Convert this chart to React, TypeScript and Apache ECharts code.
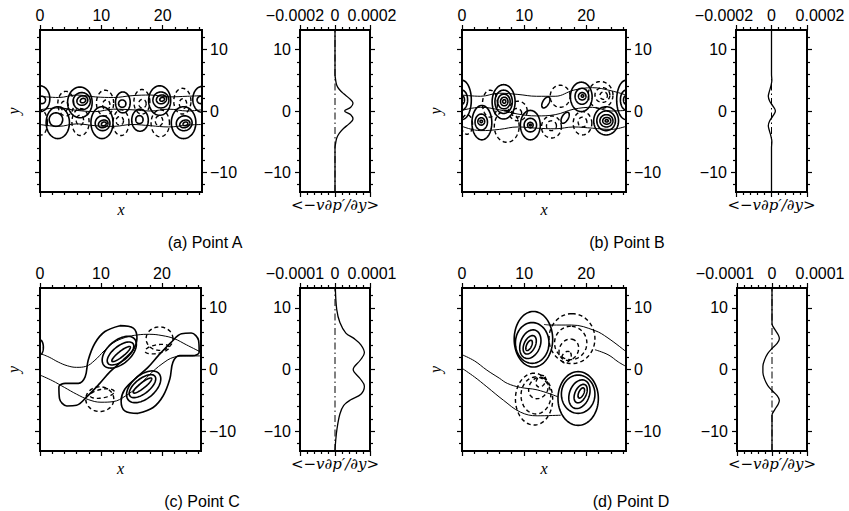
import React, { useEffect, useRef } from 'react';
import * as echarts from 'echarts';

// ---------------- ticks / ranges ----------------
const X_RANGE = [0, 26.4];
const Y_RANGE = [-13.2, 13.2];
const X_MAJOR_TICKS = [0, 10, 20];
const X_MINOR_TICKS = [2, 4, 6, 8, 12, 14, 16, 18, 22, 24, 26];
const Y_MAJOR_TICKS = [-10, 0, 10];
const Y_MINOR_TICKS = [-12, -8, -6, -4, -2, 2, 4, 6, 8, 12];
const FLUX_AB_RANGE = [-0.0002, 0.0002];
const FLUX_AB_MAJOR = [-0.0002, 0, 0.0002];
const FLUX_AB_MINOR = [-0.00016, -0.00012, -0.00008, -0.00004, 0.00004, 0.00008, 0.00012, 0.00016];
const FLUX_CD_RANGE = [-0.0001, 0.0001];
const FLUX_CD_MAJOR = [-0.0001, 0, 0.0001];
const FLUX_CD_MINOR = [-0.00008, -0.00006, -0.00004, -0.00002, 0.00002, 0.00004, 0.00006, 0.00008];

const CAPTIONS = ['(a) Point A', '(b) Point B', '(c) Point C', '(d) Point D'];
const X_NAME = 'x';
const Y_NAME = 'y';
const FLUX_NAME = '<\u2212v\u2202p\u2032/\u2202y>';

// ---------------- contour loops: [cx, cy, rx, ry, angleDeg, sign] ----------------
const A_CONTOURS = [
  [6.5, 1.4, 2.0, 2.5, 0, 1], [6.8, 1.6, 1.4, 1.4, 20, 1], [6.9, 1.7, 0.9, 0.75, 20, 1], [7.0, 1.7, 0.45, 0.35, 20, 1],
  [19.5, 1.7, 1.8, 2.4, 0, 1], [19.7, 1.8, 1.3, 1.3, 20, 1], [19.8, 1.9, 0.85, 0.7, 20, 1], [19.9, 1.9, 0.4, 0.3, 20, 1],
  [13.5, 1.4, 1.2, 1.7, 0, 1], [13.4, 1.2, 0.6, 0.6, 0, 1],
  [0, 2.0, 1.6, 2.1, 0, 1], [0.3, 1.8, 0.6, 0.6, 0, 1],
  [26.4, 1.9, 1.5, 2.1, 0, 1], [26.2, 1.8, 0.6, 0.6, 0, 1],
  [2.9, -1.9, 1.9, 2.6, 0, 1], [2.6, -1.4, 1.1, 1.1, 0, 1],
  [10.1, -1.9, 1.8, 2.6, 0, 1], [10.2, -2.0, 1.2, 1.2, 20, 1], [10.3, -2.1, 0.8, 0.6, 20, 1], [10.4, -2.1, 0.4, 0.3, 20, 1],
  [16.3, -1.5, 1.35, 1.8, 0, 1], [16.2, -1.4, 0.6, 0.65, 0, 1],
  [23.4, -1.9, 2.0, 2.6, 0, 1], [23.5, -2.0, 1.3, 1.2, 20, 1], [23.6, -2.1, 0.85, 0.6, 20, 1], [23.7, -2.1, 0.4, 0.3, 20, 1],
  [4.2, 1.2, 1.3, 2.0, 0, -1], [4.0, 0.8, 0.6, 0.8, 0, -1],
  [10.6, 1.3, 1.4, 2.1, 0, -1], [10.8, 1.0, 0.6, 0.8, 0, -1],
  [16.6, 1.5, 1.3, 2.0, 0, -1], [16.7, 1.2, 0.6, 0.7, 0, -1],
  [23.2, 1.6, 1.4, 2.1, 0, -1], [23.3, 1.2, 0.6, 0.8, 0, -1],
  [6.6, -1.8, 1.4, 2.2, 0, -1], [6.5, -1.5, 0.6, 0.8, 0, -1],
  [13.2, -1.9, 1.3, 2.1, 0, -1], [13.0, -1.6, 0.6, 0.7, 0, -1],
  [19.6, -2.0, 1.5, 2.2, 0, -1], [19.4, -1.6, 0.6, 0.8, 0, -1],
  [0.2, -1.9, 1.0, 2.0, 0, -1],
];
const B_CONTOURS = [
  [6.7, 1.5, 1.85, 2.8, 0, 1], [6.7, 1.5, 1.4, 1.9, 0, 1], [6.75, 1.55, 1.0, 1.2, 0, 1], [6.8, 1.55, 0.6, 0.7, 0, 1], [6.8, 1.55, 0.25, 0.3, 0, 1],
  [19.2, 2.3, 1.75, 2.4, 0, 1], [19.3, 2.4, 1.1, 1.3, 0, 1], [19.35, 2.4, 0.6, 0.6, 0, 1], [19.4, 2.45, 0.2, 0.2, 0, 1],
  [3.2, -1.9, 1.6, 2.8, 0, 1], [3.1, -1.8, 1.0, 1.3, 0, 1], [3.1, -1.7, 0.55, 0.6, 0, 1], [3.1, -1.7, 0.2, 0.2, 0, 1],
  [11.0, -2.3, 1.6, 2.4, 0, 1], [11.0, -2.3, 1.0, 1.1, 0, 1], [11.0, -2.3, 0.45, 0.45, 0, 1], [11.0, -2.3, 0.15, 0.15, 0, 1],
  [23.2, -1.6, 2.0, 2.3, 0, 1], [23.2, -1.6, 1.5, 1.6, 0, 1], [23.25, -1.6, 1.05, 1.0, 0, 1], [23.3, -1.6, 0.65, 0.55, 0, 1], [23.3, -1.6, 0.25, 0.2, 0, 1],
  [0, 1.8, 1.5, 3.2, 0, 1], [0, 1.8, 0.9, 1.6, 0, 1], [0, 1.8, 0.4, 0.7, 0, 1],
  [26.4, 1.8, 1.5, 3.2, 0, 1], [26.4, 1.8, 0.9, 1.6, 0, 1], [26.4, 1.8, 0.4, 0.7, 0, 1],
  [13.5, 1.4, 1.0, 0.5, 60, 1], [16.6, -1.1, 1.0, 0.5, 60, 1],
  [4.5, 1.2, 1.2, 2.2, 0, -1],
  [9.0, 0.0, 1.5, 1.6, 0, -1], [8.8, -0.3, 0.8, 0.7, 0, -1],
  [7.2, -2.5, 2.0, 2.6, 0, -1],
  [14.4, -2.6, 1.6, 1.8, 0, -1], [14.4, -2.4, 0.8, 0.8, 0, -1],
  [15.8, 2.4, 1.6, 1.8, 0, -1],
  [22.3, 2.6, 2.0, 2.2, 0, -1], [22.6, 2.6, 1.2, 1.2, 0, -1], [22.8, 2.5, 0.6, 0.6, 0, -1],
  [19.4, -2.0, 1.5, 1.9, 0, -1], [19.4, -1.8, 0.7, 0.8, 0, -1],
  [0.8, -2.2, 0.9, 1.6, 0, -1],
];
const C_CONTOURS = [
  [13.3, 2.5, 1.9, 0.45, 38, 1], [13.2, 2.6, 2.6, 1.2, 38, 1], [13.0, 2.8, 3.3, 1.9, 40, 1],
  [16.8, -2.6, 1.9, 0.45, 38, 1], [16.8, -2.7, 2.6, 1.2, 38, 1], [17.0, -2.8, 3.3, 1.9, 40, 1],
  [0, 3.6, 0.55, 1.2, 0, 1],
  [19.6, 5.0, 2.2, 1.9, 0, -1], [19.2, 3.3, 2.0, 0.7, 10, -1],
  [9.8, -4.8, 2.3, 2.0, 0, -1], [10.2, -3.9, 2.0, 0.7, 10, -1],
];
const D_CONTOURS = [
  [11.5, 4.9, 4.5, 3.1, 90, 1], [11.3, 4.3, 3.3, 2.7, 90, 1], [11.0, 4.1, 2.4, 1.6, 70, 1], [10.9, 4.0, 1.6, 0.9, 65, 1], [10.8, 3.9, 0.9, 0.4, 65, 1],
  [18.7, -4.7, 4.35, 3.25, 90, 1], [18.7, -4.0, 3.1, 2.7, 90, 1], [18.9, -4.0, 2.4, 1.6, 70, 1], [19.1, -3.9, 1.6, 0.9, 65, 1], [19.2, -3.8, 0.9, 0.4, 65, 1],
  [17.7, 5.0, 4.05, 3.7, 90, -1], [17.5, 4.3, 2.7, 2.6, 90, -1], [17.2, 3.2, 1.8, 1.5, 60, -1], [16.8, 2.0, 1.0, 0.7, 60, -1],
  [11.6, -4.8, 4.2, 3.0, 90, -1], [11.9, -4.2, 3.0, 2.4, 90, -1], [12.3, -3.0, 1.8, 1.5, 60, -1], [12.7, -1.9, 1.0, 0.7, 60, -1],
];

// ---------------- free-form closed contours (panel C) ----------------
const C_UPPER_LOOP = [[13.1, 7.1], [15.3, 6.7], [15.9, 5.1], [15.3, 3.2], [13.6, 1.5], [11.5, -0.35], [9.8, -2.25], [7.7, -4.4], [6.0, -5.8], [4.4, -5.9], [3.2, -4.7], [3.1, -2.8], [4.15, -2.25], [6.3, -2.25], [7.4, -1.2], [7.9, 1.5], [9.0, 4.25], [10.65, 6.15], [13.1, 7.1]];
const C_LOWER_LOOP = [[16.1, -7.1], [13.9, -6.7], [13.3, -5.1], [13.9, -3.2], [15.6, -1.5], [17.7, 0.35], [19.4, 2.25], [21.5, 4.4], [23.2, 5.8], [24.8, 5.9], [26.0, 4.7], [26.1, 2.8], [25.05, 2.25], [22.9, 2.25], [21.8, 1.2], [21.3, -1.5], [20.2, -4.25], [18.55, -6.15], [16.1, -7.1]];

// ---------------- streamlines ----------------
const A_STREAM_1 = [[0, 2.4], [3, 2.2], [6, 2.6], [9, 2.3], [12, 2.2], [15, 2.5], [18, 2.6], [21, 2.3], [24, 2.4], [26.4, 2.5]];
const A_STREAM_2 = [[0, 0.2], [3, 0.5], [6, 0.1], [9, -0.1], [12, 0.3], [15, 0.2], [18, 0.0], [21, 0.3], [24, 0.0], [26.4, 0.2]];
const A_STREAM_3 = [[0, -2.2], [3, -2.5], [6, -2.1], [9, -2.4], [12, -2.5], [15, -2.2], [18, -2.4], [21, -2.6], [24, -2.3], [26.4, -2.2]];
const B_STREAM_1 = [[0, 2.6], [3, 2.4], [6, 2.9], [9, 2.7], [12, 2.4], [15, 2.4], [18, 3.4], [21, 3.8], [24, 3.3], [26.4, 2.6]];
const B_STREAM_2 = [[0, 0.1], [3, 0.6], [6, 0.2], [9, -0.5], [12, -0.8], [15, -0.6], [18, 0.3], [21, 0.6], [24, 0.0], [26.4, 0.1]];
const B_STREAM_3 = [[0, -2.5], [3, -3.2], [6, -3.0], [9, -2.6], [12, -2.8], [15, -2.9], [18, -2.6], [21, -2.8], [24, -3.0], [26.4, -2.5]];
const C_STREAM_1 = [[0, 2.6], [1.5, 2.0], [3, 1.2], [4.5, 0.6], [6, 0.35], [7.5, 0.5], [9, 1.5], [10.5, 3.0], [12, 4.3], [14, 5.2], [16, 5.6], [18, 5.7], [20, 5.5], [22, 5.0], [24, 4.0], [26.4, 2.8]];
const C_STREAM_2 = [[0, -0.9], [2, -1.8], [4, -2.9], [6, -4.0], [8, -4.9], [10, -5.3], [12, -5.2], [14, -4.3], [16, -2.8], [18, -0.8], [20, 0.9], [22, 2.0], [24, 2.2], [26.4, 2.2]];
const D_STREAM_1 = [[0, 2.4], [2, 1.4], [4, -0.1], [6, -1.4], [7.3, -2.25], [9.4, -2.9], [12.1, -3.3], [15.4, -4.4]];
const D_STREAM_2 = [[0, 0.2], [2, -1.2], [4, -2.8], [6.7, -5.0], [9.4, -6.9], [12.1, -7.5], [15.9, -7.4]];
const D_STREAM_3 = [[13.2, 7.3], [14.3, 7.2], [17.6, 7.2], [21.4, 6.3], [23.5, 5.1], [26.4, 2.9]];
const D_STREAM_4 = [[21.4, 3.2], [23.5, 2.4], [25.2, 1.2], [26.4, 0.5]];

// ---------------- profiles <-v dp'/dy> : [value, y] ----------------
const A_PROFILE = [[0, 13.2], [0, 8], [0, 6], [0.000004, 5], [0.00001, 4.2], [0.000025, 3.5], [0.00005, 2.8], [0.00008, 2.1], [0.000103, 1.3], [0.00009, 0.6], [0.000055, 0], [0.00009, -0.6], [0.000103, -1.3], [0.00008, -2.1], [0.00005, -2.8], [0.000025, -3.6], [0.00001, -4.4], [0.000004, -5.2], [0, -6], [0, -8], [0, -13.2]];
const B_PROFILE = [[0, 13.2], [0, 6], [0.000002, 5], [-0.000004, 4], [-0.000012, 3.2], [-0.000018, 2.4], [-0.00001, 1.6], [0.000008, 0.8], [0.000022, 0], [0.000008, -0.8], [-0.00001, -1.6], [-0.000018, -2.4], [-0.000012, -3.2], [-0.000004, -4], [0.000002, -5], [0, -6], [0, -13.2]];
const C_PROFILE = [[0.000001, 13.2], [0.000005, 9.7], [0.000014, 7.6], [0.000031, 5.9], [0.000055, 5.0], [0.000074, 4.0], [0.000084, 2.7], [0.000072, 1.5], [0.000052, 0], [0.000072, -1.5], [0.000084, -2.7], [0.000074, -4.0], [0.000045, -4.9], [0.000025, -5.8], [0.000014, -7.2], [0.000006, -9.5], [0.000002, -11.5], [0, -13.2]];
const D_PROFILE = [[0, 13.2], [0, 7.4], [0.000008, 6.5], [0.000018, 5.6], [0.000021, 5.0], [0.000014, 4.2], [0, 3.4], [-0.000012, 2.6], [-0.000021, 1.6], [-0.000026, 0.5], [-0.000026, -0.5], [-0.000021, -1.6], [-0.000012, -2.6], [0, -3.4], [0.000014, -4.2], [0.000021, -5.0], [0.000018, -5.6], [0.000008, -6.5], [0, -7.4], [0, -13.2]];
const ZERO_LINE = [[0, -13.2], [0, 13.2]];

const SANS = '"Liberation Sans", Arial, Helvetica, sans-serif';
const SERIF = '"Liberation Serif", "Times New Roman", serif';
const MATH = '"DejaVu Serif", "Liberation Serif", serif';

function fmt(v: number): string {
  if (Math.abs(v) < 1e-12) return '0';
  const s = String(Math.abs(v));
  return v < 0 ? '\u2212' + s : s;
}

function ellipseRender(params: any, api: any) {
  const cx = api.value(0), cy = api.value(1), rx = api.value(2), ry = api.value(3);
  const a = (api.value(4) * Math.PI) / 180;
  const sign = api.value(5);
  const pts: number[][] = [];
  const N = 72;
  for (let i = 0; i < N; i++) {
    const t = (i / N) * Math.PI * 2;
    const ex = rx * Math.cos(t), ey = ry * Math.sin(t);
    pts.push(api.coord([cx + ex * Math.cos(a) - ey * Math.sin(a), cy + ex * Math.sin(a) + ey * Math.cos(a)]));
  }
  return {
    type: 'polygon',
    shape: { points: pts },
    style: { fill: 'none', stroke: '#000', lineWidth: sign > 0 ? 1.6 : 1.4, lineDash: sign > 0 ? null : [4, 3] },
  };
}

function buildOption() {
  const grids: any[] = [];
  const xAxes: any[] = [];
  const yAxes: any[] = [];
  const series: any[] = [];

  const makeAxis = (s: any) => {
    const ax: any = {
      type: 'value',
      gridIndex: s.grid,
      position: s.pos,
      min: s.range[0],
      max: s.range[1],
      splitLine: { show: false },
      axisLine: { show: false, onZero: false },
      axisTick: { show: true, inside: false, length: s.len, customValues: s.ticks, lineStyle: { color: '#000', width: 1.2 } },
      axisLabel: { show: false },
    };
    if (s.labels) {
      const sp = s.spread || [0, 0];
      ax.axisLabel = {
        show: true,
        customValues: s.labels,
        margin: s.margin,
        color: '#000',
        fontSize: 16,
        fontFamily: SANS,
        formatter: s.spread
          ? (v: number) => (v < 0 ? '{l|' + fmt(v) + '}' : v > 0 ? '{r|' + fmt(v) + '}' : fmt(v))
          : (v: number) => fmt(v),
        rich: s.spread
          ? {
              l: { padding: [0, sp[0], 0, 0], fontSize: 16, fontFamily: SANS, color: '#000' },
              r: { padding: [0, 0, 0, sp[1]], fontSize: 16, fontFamily: SANS, color: '#000' },
            }
          : undefined,
      };
    }
    if (s.name) {
      ax.name = s.name;
      ax.nameLocation = 'middle';
      ax.nameGap = s.nameGap;
      ax.nameTextStyle = { fontFamily: s.nameFont || SERIF, fontStyle: 'italic', fontSize: s.nameSize || 16, color: '#000' };
    }
    return ax;
  };

  const addFrame = (g: any, xr: number[], xMaj: number[], xMin: number[], opts: any) => {
    const grid = grids.length;
    grids.push({ left: g[0], top: g[1], width: g[2], height: g[3], show: true, borderColor: '#000', borderWidth: 2, backgroundColor: 'rgba(0,0,0,0)' });
    const xi = xAxes.length;
    const yi = yAxes.length;
    xAxes.push(makeAxis({ grid, pos: 'top', range: xr, ticks: xMaj, len: 5, labels: xMaj, margin: 7, spread: opts.spread }));
    xAxes.push(makeAxis({ grid, pos: 'top', range: xr, ticks: xMin, len: 3 }));
    xAxes.push(makeAxis({ grid, pos: 'bottom', range: xr, ticks: xMaj, len: 5, name: opts.xName, nameGap: opts.xNameGap, nameSize: opts.xNameSize, nameFont: opts.xNameFont }));
    xAxes.push(makeAxis({ grid, pos: 'bottom', range: xr, ticks: xMin, len: 3 }));
    yAxes.push(makeAxis({ grid, pos: 'left', range: Y_RANGE, ticks: Y_MAJOR_TICKS, len: 5, labels: opts.yLabels === 'left' ? Y_MAJOR_TICKS : null, margin: 9, name: opts.yName, nameGap: 19 }));
    yAxes.push(makeAxis({ grid, pos: 'left', range: Y_RANGE, ticks: Y_MINOR_TICKS, len: 3 }));
    yAxes.push(makeAxis({ grid, pos: 'right', range: Y_RANGE, ticks: Y_MAJOR_TICKS, len: 5, labels: opts.yLabels === 'right' ? Y_MAJOR_TICKS : null, margin: 8 }));
    yAxes.push(makeAxis({ grid, pos: 'right', range: Y_RANGE, ticks: Y_MINOR_TICKS, len: 3 }));
    return { xi, yi };
  };

  const contourPanel = (g: any, contours: any[], streams: number[][][], loops: number[][][]) => {
    const { xi, yi } = addFrame(g, X_RANGE, X_MAJOR_TICKS, X_MINOR_TICKS, { xName: X_NAME, xNameGap: 9, yName: Y_NAME, yLabels: 'right' });
    series.push({
      type: 'custom',
      xAxisIndex: xi,
      yAxisIndex: yi,
      clip: true,
      silent: true,
      renderItem: ellipseRender,
      encode: { x: 0, y: 1 },
      data: contours,
    });
    loops.forEach((l) => {
      series.push({ type: 'line', xAxisIndex: xi, yAxisIndex: yi, data: l, smooth: 0.35, symbol: 'none', clip: true, silent: true, lineStyle: { color: '#000', width: 1.6 } });
    });
    streams.forEach((s) => {
      series.push({ type: 'line', xAxisIndex: xi, yAxisIndex: yi, data: s, smooth: 0.4, symbol: 'none', clip: true, silent: true, lineStyle: { color: '#000', width: 1 } });
    });
  };

  const profilePanel = (g: any, range: number[], maj: number[], min: number[], prof: number[][], spread: number[]) => {
    const { xi, yi } = addFrame(g, range, maj, min, { xName: FLUX_NAME, xNameGap: 5, xNameSize: 15, xNameFont: MATH, yLabels: 'left', spread });
    series.push({ type: 'line', xAxisIndex: xi, yAxisIndex: yi, data: ZERO_LINE, symbol: 'none', silent: true, lineStyle: { color: '#000', width: 1, type: [7, 3, 1.5, 3] } });
    series.push({ type: 'line', xAxisIndex: xi, yAxisIndex: yi, data: prof, smooth: 0.35, symbol: 'none', clip: true, silent: true, lineStyle: { color: '#000', width: 1.3 } });
  };

  contourPanel([40, 30, 162, 162], A_CONTOURS, [A_STREAM_1, A_STREAM_2, A_STREAM_3], []);
  profilePanel([300, 30, 70, 162], FLUX_AB_RANGE, FLUX_AB_MAJOR, FLUX_AB_MINOR, A_PROFILE, [10, 4]);
  contourPanel([462, 30, 164, 162], B_CONTOURS, [B_STREAM_1, B_STREAM_2, B_STREAM_3], []);
  profilePanel([736, 30, 71, 162], FLUX_AB_RANGE, FLUX_AB_MAJOR, FLUX_AB_MINOR, B_PROFILE, [24, 26]);
  contourPanel([40, 288, 161, 163], C_CONTOURS, [C_STREAM_1, C_STREAM_2], [C_UPPER_LOOP, C_LOWER_LOOP]);
  profilePanel([300, 288, 70, 163], FLUX_CD_RANGE, FLUX_CD_MAJOR, FLUX_CD_MINOR, C_PROFILE, [10, 4]);
  contourPanel([462, 288, 164, 163], D_CONTOURS, [D_STREAM_1, D_STREAM_2, D_STREAM_3, D_STREAM_4], []);
  profilePanel([737, 288, 70, 163], FLUX_CD_RANGE, FLUX_CD_MAJOR, FLUX_CD_MINOR, D_PROFILE, [24, 26]);

  const capPos = [[205, 242], [627, 242], [202, 501], [631, 501]];
  const graphic = CAPTIONS.map((t, i) => ({
    type: 'text',
    x: capPos[i][0],
    y: capPos[i][1],
    style: { text: t, textAlign: 'center', textVerticalAlign: 'middle', fontSize: 16, fontFamily: SANS, fill: '#000' },
  }));

  return { animation: false, backgroundColor: '#fff', grid: grids, xAxis: xAxes, yAxis: yAxes, series, graphic };
}

export default function App() {
  const ref = useRef<HTMLDivElement>(null);
  useEffect(() => {
    if (!ref.current) return;
    const chart = echarts.init(ref.current, undefined, { renderer: 'svg' });
    chart.setOption(buildOption() as any);
    return () => chart.dispose();
  }, []);
  return <div ref={ref} style={{ position: 'absolute', left: 0, top: 0, width: 849, height: 511 }} />;
}
